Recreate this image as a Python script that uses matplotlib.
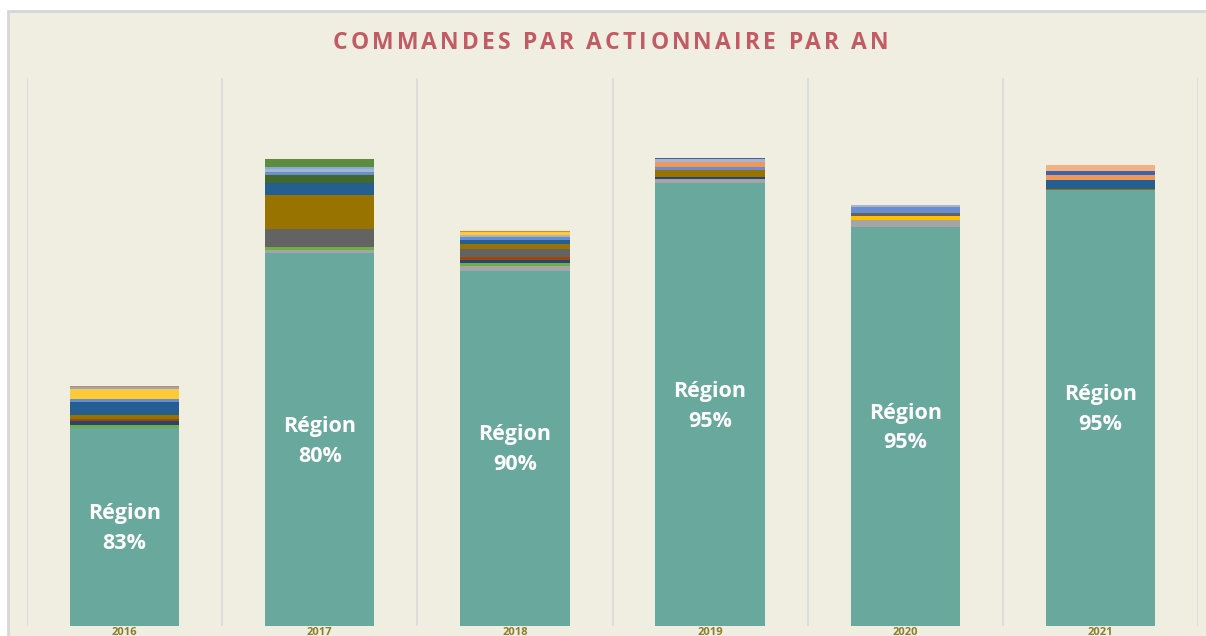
import matplotlib
matplotlib.use('Agg')
from matplotlib import pyplot as plt
from matplotlib.patches import Rectangle
import numpy as np

# commandes par actionnaire et par an (valeurs estimees a partir du graphique)
years = ['2016', '2017', '2018', '2019', '2020', '2021']
region_pct = ['83%', '80%', '90%', '95%', '95%', '95%']

region = [197.7, 372.7, 355.3, 442.7, 399.0, 436.3]
gris = [0, 3.3, 4.7, 4.3, 7.3, 0]
vert = [3.3, 3.3, 3.3, 0, 0, 0]
jaune = [0, 0, 0, 0, 4.0, 0]
marine = [4.3, 0, 2.7, 1.7, 0, 0]
brun = [1.3, 0, 3.3, 0, 0, 0]
gris_fonce = [0, 17.7, 7.7, 0, 2.7, 0]
olive = [4.0, 34.0, 4.7, 7.3, 0, 1.0]
bleu = [13.3, 11.7, 4.3, 0, 0, 9.0]
vert_fonce = [0, 8.3, 0, 0, 0, 0]
bleu_clair = [3.3, 3.3, 2.7, 2.7, 6.0, 0]
orange_clair = [0, 0, 0, 5.7, 0, 5.0]
gris_clair = [0, 2.3, 2.3, 2.3, 1.7, 0]
jaune_clair = [10.0, 0, 3.3, 0, 0, 0]
bleu_ciel = [1.7, 2.0, 0, 0, 0, 0]
vert_clair = [0, 8.0, 0, 0, 0, 0]
bleu_moyen = [0, 0, 0, 1.7, 0, 3.3]
orange = [0.7, 0, 1.0, 0, 0.7, 0]
peche = [0, 0, 0, 0, 0, 6.7]

series = [
    (region, '#69A89C'),
    (gris, '#A5A5A5'),
    (vert, '#70AD47'),
    (jaune, '#FFC000'),
    (marine, '#264478'),
    (brun, '#9E480E'),
    (gris_fonce, '#636363'),
    (olive, '#997300'),
    (bleu, '#255E91'),
    (vert_fonce, '#43682B'),
    (bleu_clair, '#698ED0'),
    (orange_clair, '#F1975A'),
    (gris_clair, '#A9B4C8'),
    (jaune_clair, '#FFCA33'),
    (bleu_ciel, '#7CAFDD'),
    (vert_clair, '#5E8B3E'),
    (bleu_moyen, '#3A64B0'),
    (orange, '#ED7D31'),
    (peche, '#F4B183'),
]

title = 'COMMANDES PAR ACTIONNAIRE PAR AN'

W, H = 1206, 636
fig = plt.figure(figsize=(W / 100, H / 100), dpi=100, facecolor='white')

# panneau creme avec bordure
bg = Rectangle((8 / W, -0.01), 1 - 8 / W + 0.01, (H - 11) / H + 0.01,
               transform=fig.transFigure, facecolor='#F0EDE1',
               edgecolor='#D6D6D6', linewidth=2, zorder=-10)
fig.patches.append(bg)

ax = fig.add_axes([27 / W, 10 / H, 1171 / W, 548 / H])
ax.set_facecolor('none')
ax.set_zorder(2)

x = np.arange(len(years))
bottom = np.zeros(len(years))
for vals, col in series:
    vals = np.array(vals, dtype=float)
    ax.bar(x, vals, width=0.56, bottom=bottom, color=col, edgecolor='none', zorder=3)
    bottom += vals

for i, yr in enumerate(years):
    ax.text(x[i], region[i] / 2 - 1.5, 'Région\n' + region_pct[i], ha='center', va='center',
            color='white', fontsize=15.5, fontweight='bold', family='Open Sans',
            linespacing=1.55, zorder=4)

ax.set_xlim(-0.5, len(years) - 0.5)
ax.set_ylim(0, 548)
for b in np.arange(-0.5, len(years), 1):
    ax.axvline(b, color='#D9D9D9', linewidth=1.2, zorder=1)

for s in ax.spines.values():
    s.set_visible(False)
ax.set_yticks([])
ax.set_xticks(x)
ax.set_xticklabels(years, fontsize=8, fontweight='bold', color='#8C7E2C', family='Open Sans')
ax.tick_params(axis='x', length=0, pad=0.5)

# titre avec espacement des lettres (largeur cible ~556 px)
renderer = fig.canvas.get_renderer()
tstyle = dict(fontsize=16.5, fontweight='bold', color='#C25B63', family='Open Sans')
probe = fig.text(0, 0, '', **tstyle)

def width_of(s):
    probe.set_text(s)
    return probe.get_window_extent(renderer).width

lefts = []
for i, ch in enumerate(title):
    lefts.append(width_of(title[:i + 1]) - width_of(ch))
natural = width_of(title)
probe.remove()
tracking = (556 - natural) / (len(title) - 1)
x0 = 611 - 556 / 2
for i, ch in enumerate(title):
    if ch == ' ':
        continue
    fig.text((x0 + lefts[i] + i * tracking) / W, 1 - 43 / H, ch, va='center', ha='left', **tstyle)

plt.savefig('out.png', dpi=100, facecolor=fig.get_facecolor())
